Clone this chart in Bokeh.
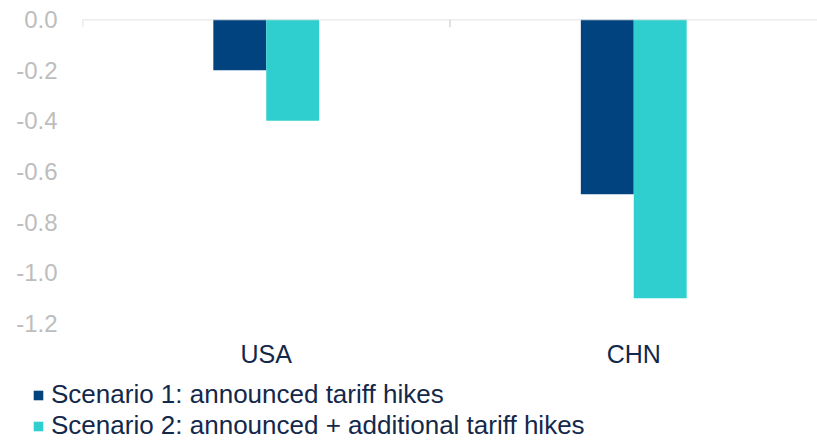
from bokeh.plotting import figure
from bokeh.layouts import column, row
from bokeh.models import (FactorRange, Range1d, ColumnDataSource, FixedTicker, LinearAxis,
                          Legend, LegendItem, CategoricalAxis, NumeralTickFormatter, Span)
from bokeh.transform import dodge
from bokeh.embed import file_html
from bokeh.resources import INLINE

countries = ["USA", "CHN"]
scenario1 = [-0.2, -0.69]
scenario2 = [-0.4, -1.1]
series_names = ["Scenario 1: announced tariff hikes",
                "Scenario 2: announced + additional tariff hikes"]
y_ticks = [0.0, -0.2, -0.4, -0.6, -0.8, -1.0, -1.2]

FONT = "Liberation Sans"
DARK = "#00437F"
TEAL = "#2FCFCF"
TXT = "#13284A"
GRAY_TXT = "#BDBDBD"
LINE = "#D9D9D9"

src = ColumnDataSource(dict(country=countries, s1=scenario1, s2=scenario2,
                            zero=[0.0, 0.0], tick_end=[-0.031, -0.031]))

# ---------------- main chart ----------------
p = figure(width=817, height=370, output_backend="svg", toolbar_location=None,
           x_range=FactorRange(factors=countries, range_padding=0),
           y_range=Range1d(-1.2, 0),
           min_border_top=19, min_border_left=82, min_border_right=0, min_border_bottom=43,
           x_axis_location=None, y_axis_location=None)
p.outline_line_color = None
p.grid.visible = False
p.background_fill_color = "white"
p.border_fill_color = "white"

p.vbar(x=dodge("country", -0.072, range=p.x_range), top="s1", bottom=0, width=0.144,
       source=src, fill_color=DARK, line_color=None)
p.vbar(x=dodge("country", 0.072, range=p.x_range), top="s2", bottom=0, width=0.144,
       source=src, fill_color=TEAL, line_color=None)

# zero line with category boundary ticks
p.add_layout(Span(location=0, dimension="width", line_color=LINE, line_width=1.5))
p.segment(x0=dodge("country", -0.5, range=p.x_range), y0="zero",
          x1=dodge("country", -0.5, range=p.x_range), y1="tick_end",
          source=src, line_color=LINE, line_width=1.5)

# left value axis (labels only)
yax = LinearAxis(ticker=FixedTicker(ticks=y_ticks))
yax.axis_line_color = None
yax.major_tick_line_color = None
yax.minor_tick_line_color = None
yax.major_label_text_font = FONT
yax.major_label_text_font_size = "24px"
yax.major_label_text_color = GRAY_TXT
yax.major_label_standoff = 19
yax.formatter = NumeralTickFormatter(format="0.0")
p.add_layout(yax, "left")

# bottom category labels
xax = CategoricalAxis()
xax.axis_line_color = None
xax.major_tick_line_color = None
xax.minor_tick_line_color = None
xax.major_label_text_font = FONT
xax.major_label_text_font_size = "25px"
xax.major_label_text_color = TXT
xax.major_label_standoff = 10
p.add_layout(xax, "below")

# ---------------- legend strip ----------------
lg = figure(width=817, height=72, output_backend="svg", toolbar_location=None,
            x_range=FactorRange(factors=countries), y_range=Range1d(10, 11),
            min_border_top=0, min_border_left=0, min_border_right=0, min_border_bottom=0,
            x_axis_location=None, y_axis_location=None)
lg.outline_line_color = None
lg.grid.visible = False
lg.border_fill_color = "white"
l1 = lg.vbar(x="country", top="s1", bottom=0, width=0.1, source=src,
             fill_color=DARK, line_color=None)
l2 = lg.vbar(x="country", top="s2", bottom=0, width=0.1, source=src,
             fill_color=TEAL, line_color=None)

legend = Legend(items=[LegendItem(label=series_names[0], renderers=[l1]),
                       LegendItem(label=series_names[1], renderers=[l2])],
                location=(32, 1), orientation="vertical")
legend.label_text_font = FONT
legend.label_text_font_size = "26px"
legend.label_text_color = TXT
legend.glyph_width = 12
legend.glyph_height = 12
legend.label_standoff = 7
legend.label_height = 28
legend.spacing = 0
legend.padding = 0
legend.margin = 0
legend.border_line_color = None
legend.background_fill_alpha = 0
lg.add_layout(legend, "center")

layout = column(p, row(lg, spacing=0), spacing=0)
open("out.html", "w").write(file_html(layout, INLINE))
